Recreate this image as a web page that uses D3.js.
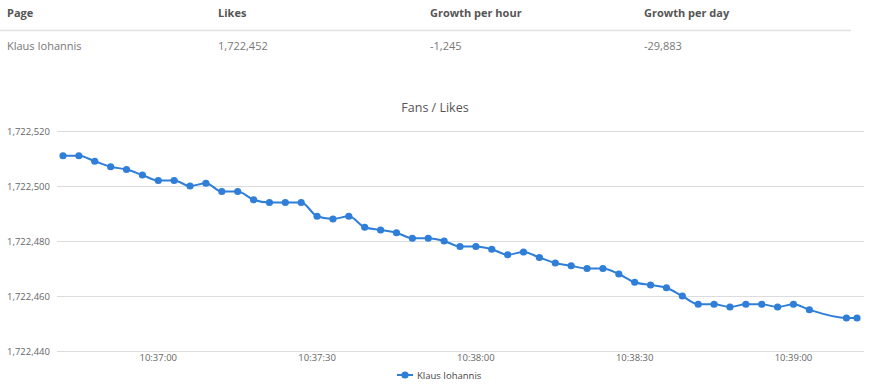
<!DOCTYPE html>
<html>
<head>
<meta charset="utf-8">
<script src="https://cdn.jsdelivr.net/npm/d3@7"></script>
<style>
  body { margin: 0; background: #fff; }
  svg { display: block; }
  .tbl { font-family: "Open Sans", "Segoe UI", Arial, sans-serif; font-size: 11px; }
  .tbl .head { font-weight: bold; fill: #555; }
  .tbl .cell { fill: #777; }
  .axis text { font-family: "Open Sans", Verdana, Arial, sans-serif; font-size: 9.5px; fill: #666; }
</style>
</head>
<body>
<div id="chart"></div>
<script>
var width = 870, height = 389;

// table
var tableHeaders = ["Page", "Likes", "Growth per hour", "Growth per day"];
var tableRow = ["Klaus Iohannis", "1,722,452", "-1,245", "-29,883"];

// series
var seriesName = "Klaus Iohannis";
var times = ["10:36:42","10:36:45","10:36:48","10:36:51","10:36:54","10:36:57","10:37:00","10:37:03",
    "10:37:06","10:37:09","10:37:12","10:37:15","10:37:18","10:37:21","10:37:24","10:37:27",
    "10:37:30","10:37:33","10:37:36","10:37:39","10:37:42","10:37:45","10:37:48","10:37:51",
    "10:37:54","10:37:57","10:38:00","10:38:03","10:38:06","10:38:09","10:38:12","10:38:15",
    "10:38:18","10:38:21","10:38:24","10:38:27","10:38:30","10:38:33","10:38:36","10:38:39",
    "10:38:42","10:38:45","10:38:48","10:38:51","10:38:54","10:38:57","10:39:00","10:39:03",
    "10:39:10","10:39:12"];
var likes = [1722511,1722511,1722509,1722507,1722506,1722504,1722502,1722502,
    1722500,1722501,1722498,1722498,1722495,1722494,1722494,1722494,
    1722489,1722488,1722489,1722485,1722484,1722483,1722481,1722481,
    1722480,1722478,1722478,1722477,1722475,1722476,1722474,1722472,
    1722471,1722470,1722470,1722468,1722465,1722464,1722463,1722460,
    1722457,1722457,1722456,1722457,1722457,1722456,1722457,1722455,
    1722452,1722452];
var yTicks = [1722440, 1722460, 1722480, 1722500, 1722520];
var xTicks = ["10:37:00", "10:37:30", "10:38:00", "10:38:30", "10:39:00"];

var parseTime = d3.timeParse("%H:%M:%S");
var data = times.map(function(t, i) { return { t: parseTime(t), v: likes[i] }; });

var svg = d3.select("#chart").append("svg")
    .attr("width", width)
    .attr("height", height);

// ---- table ----
var colX = [7, 218, 430, 644];
var tbl = svg.append("g").attr("class", "tbl");
tbl.selectAll(".head").data(tableHeaders).enter().append("text")
    .attr("class", "head")
    .attr("x", function(d, i) { return colX[i]; })
    .attr("y", 17)
    .text(function(d) { return d; });
tbl.append("line")
    .attr("x1", 0).attr("x2", 851)
    .attr("y1", 30.5).attr("y2", 30.5)
    .style("stroke", "#e2e2e2").style("stroke-width", 1.5);
tbl.selectAll(".cell").data(tableRow).enter().append("text")
    .attr("class", "cell")
    .attr("x", function(d, i) { return colX[i]; })
    .attr("y", 50)
    .text(function(d) { return d; });

// ---- chart ----
var plotLeft = 57, plotRight = 864;

var x = d3.scaleTime()
    .domain(d3.extent(data, function(d) { return d.t; }))
    .range([63, 857]);

var y = d3.scaleLinear()
    .domain([1722440, 1722520])
    .range([351, 131]);

svg.append("text")
    .attr("x", 435)
    .attr("y", 112)
    .attr("text-anchor", "middle")
    .style("font-family", "'Open Sans', Arial, sans-serif")
    .style("font-size", "12.5px")
    .style("fill", "#555")
    .text("Fans / Likes");

// grid + y labels
var yAxis = svg.append("g").attr("class", "axis");
yAxis.selectAll(".grid").data(yTicks).enter().append("line")
    .attr("class", "grid")
    .attr("x1", plotLeft).attr("x2", plotRight)
    .attr("y1", function(d) { return Math.round(y(d)) + 0.5; })
    .attr("y2", function(d) { return Math.round(y(d)) + 0.5; })
    .style("stroke", "#dcdcdc")
    .style("stroke-width", 1.2);
yAxis.selectAll(".ylab").data(yTicks).enter().append("text")
    .attr("class", "ylab")
    .attr("x", 50)
    .attr("y", function(d) { return y(d) + 3.5; })
    .attr("text-anchor", "end")
    .text(d3.format(","));

// x labels
var xAxis = svg.append("g").attr("class", "axis");
xAxis.selectAll(".xlab").data(xTicks).enter().append("text")
    .attr("class", "xlab")
    .attr("x", function(d) { return x(parseTime(d)); })
    .attr("y", 361)
    .attr("text-anchor", "middle")
    .text(function(d) { return d; });

// line
var color = "#2f7ed8";
var line = d3.line()
    .x(function(d) { return x(d.t); })
    .y(function(d) { return y(d.v); })
    .curve(d3.curveMonotoneX);

svg.append("path")
    .datum(data)
    .attr("d", line)
    .style("fill", "none")
    .style("stroke", color)
    .style("stroke-width", 2);

svg.selectAll(".dot").data(data).enter().append("circle")
    .attr("class", "dot")
    .attr("cx", function(d) { return x(d.t); })
    .attr("cy", function(d) { return y(d.v); })
    .attr("r", 3.6)
    .style("fill", color);

// legend
var legend = svg.append("g").attr("transform", "translate(397,375)");
legend.append("line")
    .attr("x1", 0).attr("x2", 16)
    .style("stroke", color).style("stroke-width", 2);
legend.append("circle")
    .attr("cx", 8).attr("r", 3.6)
    .style("fill", color);
legend.append("text")
    .attr("x", 20).attr("y", 3.5)
    .style("font-family", "'Open Sans', Arial, sans-serif")
    .style("font-size", "9.5px")
    .style("fill", "#444")
    .text(seriesName);
</script>
</body>
</html>
